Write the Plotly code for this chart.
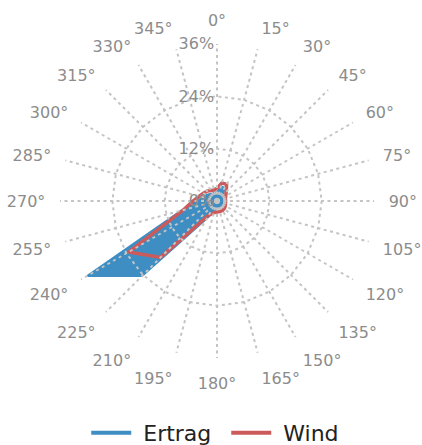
import plotly.graph_objects as go

angles = ["0°", "15°", "30°", "45°", "60°", "75°", "90°", "105°", "120°", "135°",
          "150°", "165°", "180°", "195°", "210°", "225°", "240°", "255°", "270°",
          "285°", "300°", "315°", "330°", "345°"]
ertrag = [2.0, 3.5, 3.5, 2.0, 1.5, 1.3, 1.3, 1.3, 1.3, 1.5, 1.5, 1.5,
          1.8, 2.5, 4.6, 24.3, 34.4, 8.5, 4.5, 3.3, 2.8, 2.3, 2.0, 2.0]
wind = [2.9, 4.3, 4.4, 3.0, 2.3, 2.0, 2.0, 2.0, 2.2, 2.4, 2.5, 2.5,
        2.5, 2.8, 3.7, 18.3, 23.4, 8.0, 5.5, 4.2, 3.6, 3.2, 2.8, 2.6]
radial_ticks = [0, 12, 24, 36]
radial_labels = ["0%", "12%", "24%", "36%"]
series_names = ["Ertrag", "Wind"]

BLUE = "#3e8ec4"
RED = "#cd5a5a"
GRID = "#c4c4c4"
TXT = "#8c8c8c"
FONT = "DejaVu Sans"

th = angles + angles[:1]

fig = go.Figure()
fig.add_trace(go.Scatterpolar(
    r=ertrag + ertrag[:1], theta=th, name=series_names[0], mode="lines",
    line=dict(color=BLUE, width=2), fill="toself", fillcolor=BLUE,
    showlegend=False, subplot="polar"))
fig.add_trace(go.Scatterpolar(
    r=wind + wind[:1], theta=th, name=series_names[1], mode="lines",
    line=dict(color=RED, width=3.5), showlegend=False, subplot="polar"))
# legend entries drawn as plain lines (a no-break space widens the symbol/text gap)
for nm, col in zip(series_names, [BLUE, RED]):
    fig.add_trace(go.Scatterpolar(
        r=[None], theta=[angles[0]], name="\u00a0" + nm, mode="lines",
        line=dict(color=col, width=4), subplot="polar"))
# overlay subplot carrying the dotted grid on top of the traces
fig.add_trace(go.Scatterpolar(
    r=[0] * len(angles), theta=angles, mode="markers", marker=dict(opacity=0),
    showlegend=False, hoverinfo="skip", subplot="polar2"))

common_radial = dict(range=[0, 36], tickmode="array", tickvals=radial_ticks,
                     ticktext=radial_labels, showline=False, ticks="",
                     griddash="3px,3.5px", gridcolor=GRID, gridwidth=1.6,
                     angle=90, side="counterclockwise", tickangle=90)
common_ang = dict(type="category", categoryarray=angles, direction="clockwise",
                  rotation=90, griddash="3px,3.5px", gridcolor=GRID,
                  gridwidth=1.6, showline=False)
dom = dict(x=[0, 1], y=[0, 1])

fig.update_layout(
    width=422, height=445,
    margin=dict(l=60, r=48, t=44, b=87),
    paper_bgcolor="white",
    font=dict(family=FONT, color=TXT, size=16),
    polar=dict(
        domain=dom, bgcolor="white", gridshape="linear",
        radialaxis=dict(**common_radial, showgrid=False, showticklabels=False),
        angularaxis=dict(**common_ang, showgrid=False, showticklabels=False, ticks=""),
    ),
    polar2=dict(
        domain=dom, bgcolor="rgba(0,0,0,0)", gridshape="linear",
        radialaxis=dict(**common_radial, showgrid=True, showticklabels=True,
                        tickfont=dict(size=16, color=TXT, family=FONT)),
        angularaxis=dict(**common_ang, showgrid=True, showticklabels=True,
                         ticks="outside", ticklen=11,
                         tickcolor="rgba(0,0,0,0)",
                         tickfont=dict(size=16, color=TXT, family=FONT)),
    ),
    showlegend=True,
    legend=dict(orientation="h", x=0.0836, xanchor="left", xref="paper",
                y=0.027, yanchor="middle", yref="container",
                itemwidth=40, entrywidth=85, entrywidthmode="pixels",
                font=dict(size=22, color="#222222", family=FONT),
                bgcolor="rgba(0,0,0,0)"),
)

fig.write_html("out.html", config={"displayModeBar": False},
               post_script="document.body.style.margin='0px';")
